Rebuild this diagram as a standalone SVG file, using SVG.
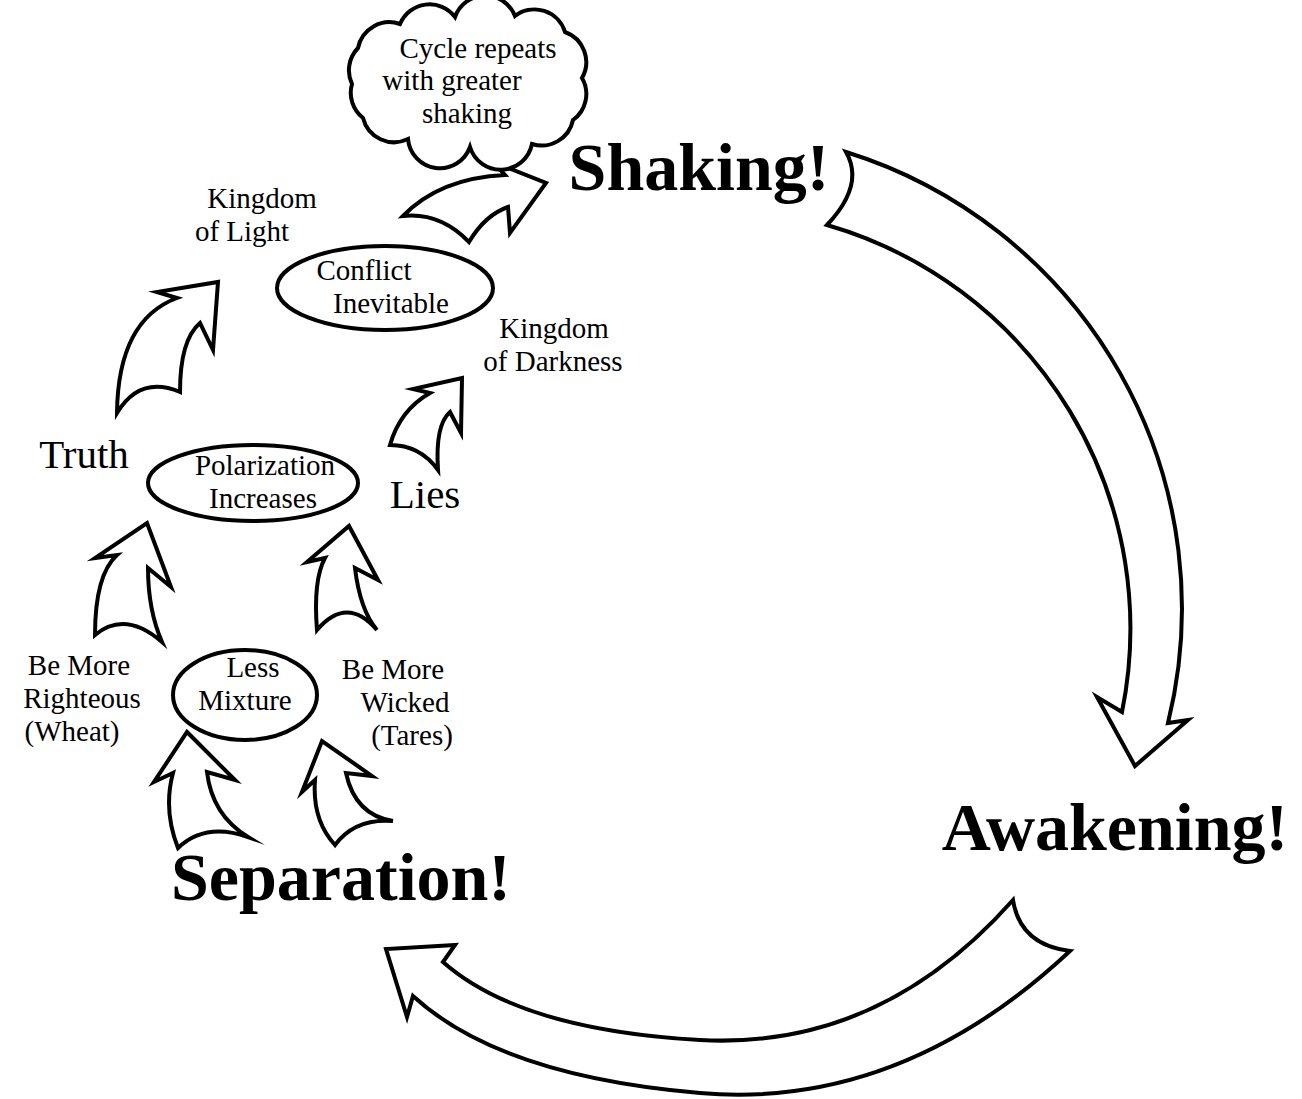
<svg xmlns="http://www.w3.org/2000/svg" width="1302" height="1099" viewBox="0 0 1302 1099">
<style>
.ar{fill:#fff;stroke:#000;stroke-width:4;stroke-linejoin:miter;stroke-miterlimit:10}
.ov{fill:#fff;stroke:#000;stroke-width:4}
.t{font-family:"Liberation Serif","Times New Roman",serif;fill:#000;text-anchor:middle}
.s{font-size:29px}
.m{font-size:41px}
.b{font-size:68px;font-weight:bold}
</style>
<rect width="1302" height="1099" fill="#fff"/>
<g id="connectors">
<path id="arrow-shaking-awakening" class="ar" d="M846 152 A478 478 0 0 1 1168 723 L1188 720 L1135 766 L1097 697 L1122 712 A420 420 0 0 0 827 225 Q865 185 846 152 Z"/>
<path id="arrow-awakening-separation" class="ar" d="M1070 951 Q900 1110 700 1093 T413 996 L407 1017 L386 949 L455 945 L443 962 Q520 1030 700 1040 T1013 900 Q1020 945 1070 951 Z"/>
<path id="arrow-to-shaking" class="ar" d="M403 216 Q440 178 505 175 L493 162 L546 183 L510 233 L508 207 Q485 215 469 242 Q440 212 403 216 Z"/>
<path id="arrow-light" class="ar" d="M117 413 Q118 320 177 298 L157 292 L218 282 L213 350 L200 323 Q180 340 180 392 Q140 375 117 413 Z"/>
<path id="arrow-darkness" class="ar" d="M390 445 Q400 410 430 393 L413 389 L462 378 L461 433 L450 412 Q435 425 438 470 Q420 445 390 445 Z"/>
<path id="arrow-truth" class="ar" d="M95 635 Q95 575 117 555 L95 558 L147 523 L171 587 L148 568 Q148 610 162 642 Q125 610 95 635 Z"/>
<path id="arrow-lies" class="ar" d="M317 630 Q313 580 325 558 L307 562 L349 526 L378 580 L355 568 Q360 610 377 630 Q347 595 317 630 Z"/>
<path id="arrow-wheat" class="ar" d="M178 848 Q163 810 173 773 L154 782 L187 732 L235 780 L207 772 Q212 815 248 837 Q205 822 178 848 Z"/>
<path id="arrow-tares" class="ar" d="M335 845 Q312 820 315 780 L302 792 L322 741 L372 776 L346 773 Q355 815 393 821 Q355 818 335 845 Z"/>
</g>
<g id="node-cloud">
<path class="ov" d="M358 48 A32 32 0 0 1 400 24 A32 32 0 0 1 455 17 A32 32 0 0 1 515 16 A32 32 0 0 1 565 32 A32 32 0 0 1 582 78 A32 32 0 0 1 573 120 A32 32 0 0 1 532 144 A32 32 0 0 1 470 147 A32 32 0 0 1 408 139 A32 32 0 0 1 363 118 A32 32 0 0 1 352 84 A32 32 0 0 1 358 48 Z"/>
<text class="t s" x="478" y="58">Cycle repeats</text>
<text class="t s" x="452" y="90">with greater</text>
<text class="t s" x="467" y="123">shaking</text>
</g>
<g id="node-shaking"><text class="t b" x="699" y="190">Shaking!</text></g>
<g id="node-awakening"><text class="t b" x="1115" y="850">Awakening!</text></g>
<g id="node-separation"><text class="t b" x="341" y="900">Separation!</text></g>
<g id="node-light"><text class="t s" x="262" y="208">Kingdom</text><text class="t s" x="242" y="241">of Light</text></g>
<g id="node-conflict"><ellipse class="ov" cx="385" cy="288" rx="108" ry="42"/><text class="t s" x="364" y="280">Conflict</text><text class="t s" x="391" y="313">Inevitable</text></g>
<g id="node-darkness"><text class="t s" x="554" y="338">Kingdom</text><text class="t s" x="553" y="371">of Darkness</text></g>
<g id="node-truth"><text class="t m" x="84" y="468">Truth</text></g>
<g id="node-polarization"><ellipse class="ov" cx="253" cy="483" rx="105" ry="38"/><text class="t s" x="265" y="475">Polarization</text><text class="t s" x="263" y="508">Increases</text></g>
<g id="node-lies"><text class="t m" x="425" y="508">Lies</text></g>
<g id="node-righteous"><text class="t s" x="79" y="675">Be More</text><text class="t s" x="82" y="708">Righteous</text><text class="t s" x="72" y="741">(Wheat)</text></g>
<g id="node-mixture"><ellipse class="ov" cx="245" cy="695" rx="72" ry="45"/><text class="t s" x="253" y="677">Less</text><text class="t s" x="245" y="710">Mixture</text></g>
<g id="node-wicked"><text class="t s" x="393" y="679">Be More</text><text class="t s" x="405" y="712">Wicked</text><text class="t s" x="412" y="745">(Tares)</text></g>
</svg>
